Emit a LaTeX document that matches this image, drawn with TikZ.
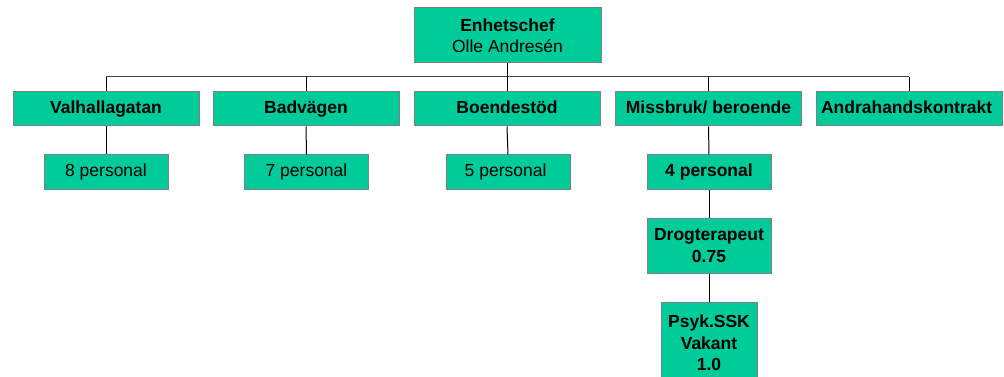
\documentclass[tikz,border=0pt]{standalone}
\usepackage{fontspec}
\setmainfont{Liberation Sans}
\definecolor{orggreen}{HTML}{00CC99}
\definecolor{orgedge}{HTML}{808080}
\definecolor{orgbus}{HTML}{404040}
\def\busy{77}
\def\rowy{109}
\def\persy{172}

\begin{document}
\begin{tikzpicture}[x=1pt,y=-1pt,
    nodes = {font=\fontsize{17.5}{21.5}\selectfont},
    unit/.style={draw=orgedge, fill=orggreen, line width=1pt, inner sep=0pt,
      align=center, minimum height=34pt},
    wide/.style={unit, minimum width=186pt, text height=12.6pt, text depth=3.7pt,
      font=\fontsize{17.5}{21.5}\selectfont\bfseries},
    small/.style={unit, minimum width=124pt, text height=12.6pt, text depth=3.7pt},
    link/.style={draw=black, line width=1pt}]
\useasboundingbox (0,0) rectangle (1004,377);
\coordinate (bus) at (0,\busy);
\node[unit, minimum width=187pt, minimum height=55pt] (chef) at (507.5,35.5)
  {\textbf{Enhetschef}\\Olle Andresén};
  \foreach \x/\name/\label in {
      106/val/Valhallagatan,
      306/bad/Badvägen,
      507/boe/Boendestöd,
      708.5/mis/{Missbruk/ beroende},
      909/andr/Andrahandskontrakt
    } {
      \node[wide] (\name) at (\x,\rowy) {\label};
      \draw[link] (\name.north) -- (\name.north |- bus); % drop from bus
    };
  \foreach \x/\name/\label in {
      106/val/{8 personal},
      306.5/bad/{7 personal},
      508/boe/{5 personal}
    } {
      \node[small] (p\name) at (\x,\persy) {\label};
      \draw[link] (\name.south) -- (p\name.north);
    };
  % missbruk branch goes further down
  \node[small, font=\fontsize{17.5}{21.5}\selectfont\bfseries] (pmis) at (709,\persy) {4 personal};
  \node[unit, minimum width=124pt, minimum height=55pt, font=\fontsize{17.5}{21.5}\selectfont\bfseries] (drog)
    at (709,245.5) {Drogterapeut\\0.75};
  \node[unit, minimum width=96pt, minimum height=82pt, font=\fontsize{17.5}{21.5}\selectfont\bfseries] (psyk)
    at (709,343) {Psyk.SSK\\Vakant\\1.0};
  \draw[link] (mis.south) -- (pmis.north);
  \draw[link] (pmis.south) -- (drog.north);
  \draw[link] (drog.south) -- (psyk.north);
  % bus line
  \coordinate (busl) at (val.north |- bus);
  \coordinate (busr) at (andr.north |- bus);
  \draw[orgbus, line width=1pt] (busl) -- (busr);
  \draw[link] (chef.south) -- (chef.south |- busl);
\end{tikzpicture}
\end{document}
